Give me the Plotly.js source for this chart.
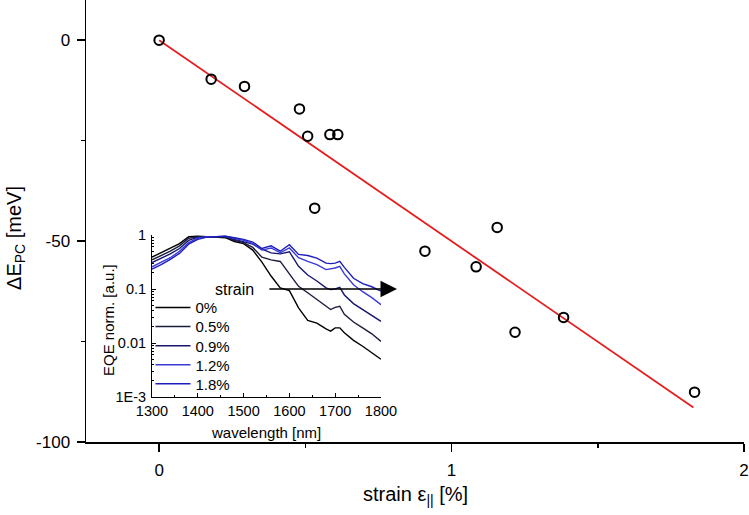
<!DOCTYPE html>
<html>
<head>
<meta charset="utf-8">
<script src="https://cdn.plot.ly/plotly-3.0.1.min.js"></script>
<style>html,body{margin:0;padding:0;background:#fff;}#chart{width:749px;height:515px;}</style>
</head>
<body>
<div id="chart"></div>
<script>
// Main plot: energy shift vs strain
const strain = [0, 0.178, 0.292, 0.480, 0.508, 0.584, 0.611, 0.532, 0.909, 1.156, 1.084, 1.217, 1.383, 1.831];
const deltaE = [0, -9.7, -11.5, -17.1, -23.9, -23.5, -23.5, -41.8, -52.5, -46.6, -56.4, -72.7, -69.0, -87.6];
// Linear fit line endpoints
const fitStrain = [0, 1.827];
const fitDeltaE = [0, -91.4];
const mainYTicks = [-100, -50, 0];
const mainYTickText = ['-100', '-50', '0'];

// Inset: normalized EQE spectra
const wavelength = [1300,1320,1340,1360,1380,1400,1420,1440,1460,1480,1500,1520,1540,1560,1580,1600,1620,1640,1660,1680,1690,1700,1710,1720,1740,1760,1780,1800];
const eqe0 = [0.389,0.468,0.562,0.692,0.933,0.955,0.933,0.912,0.891,0.759,0.692,0.525,0.316,0.174,0.105,0.0933,0.0447,0.0263,0.0234,0.0182,0.0166,0.0191,0.0191,0.0155,0.0112,0.0087,0.0066,0.0050];
const eqe05 = [0.347,0.417,0.501,0.631,0.871,0.933,0.933,0.912,0.912,0.794,0.724,0.589,0.389,0.347,0.324,0.191,0.112,0.0851,0.0646,0.0479,0.0417,0.0457,0.0479,0.0339,0.0245,0.0191,0.0148,0.0107];
const eqe09 = [0.309,0.372,0.447,0.562,0.794,0.912,0.933,0.912,0.933,0.832,0.759,0.676,0.550,0.468,0.447,0.490,0.263,0.182,0.141,0.105,0.0977,0.100,0.107,0.0776,0.0537,0.0417,0.0324,0.0251];
const eqe12 = [0.257,0.316,0.380,0.501,0.724,0.871,0.933,0.933,0.955,0.871,0.794,0.692,0.525,0.575,0.468,0.575,0.380,0.324,0.282,0.229,0.234,0.245,0.263,0.191,0.120,0.0891,0.0692,0.0513];
const eqe18 = [0.234,0.282,0.355,0.457,0.676,0.832,0.912,0.933,0.955,0.891,0.832,0.741,0.562,0.631,0.501,0.661,0.437,0.417,0.372,0.302,0.295,0.302,0.324,0.251,0.158,0.126,0.110,0.0912];
const seriesNames = ['0%','0.5%','0.9%','1.2%','1.8%'];
const seriesColors = ['#000000','#1c1c3c','#16166e','#3a3ad8','#1e1ebe'];
const insetYTicks = [0.001, 0.01, 0.1, 1];
const insetYTickText = ['1E-3', '0.01', '0.1', '1'];

const font = 'Arial, "Liberation Sans", sans-serif';
const eqeSeries = [eqe0, eqe05, eqe09, eqe12, eqe18];
const legendIds = ['legend', 'legend2', 'legend3', 'legend4', 'legend5'];
const legendY = [0.3038, 0.2609, 0.2172, 0.1742, 0.1312];

const traces = [
  {x: fitStrain, y: fitDeltaE, mode: 'lines', line: {color: '#e41e1e', width: 1.8}, showlegend: false, hoverinfo: 'skip'},
  {x: strain, y: deltaE, mode: 'markers', marker: {symbol: 'circle-open', size: 9.5, color: '#000', line: {width: 2, color: '#000'}}, showlegend: false}
];
eqeSeries.forEach((ys, i) => {
  traces.push({x: wavelength, y: ys, xaxis: 'x2', yaxis: 'y2', mode: 'lines', name: seriesNames[i],
    line: {color: seriesColors[i], width: 1.4}, showlegend: true, legend: legendIds[i]});
});

const minorLog = [];
[0.001, 0.01, 0.1].forEach(d => { for (let k = 2; k <= 9; k++) minorLog.push(d * k); });

const layout = {
  width: 749, height: 515,
  margin: {l: 86, r: 5, t: 0, b: 73},
  paper_bgcolor: '#fff', plot_bgcolor: 'rgba(0,0,0,0)',
  font: {family: font, color: '#000'},
  showlegend: true,
  xaxis: {range: [-0.25, 2], dtick: 1, tick0: 0, showline: true, linecolor: '#000', linewidth: 1.5,
    ticks: 'outside', ticklen: 8, tickwidth: 1.5, tickcolor: '#000', showgrid: false, zeroline: false,
    tickfont: {size: 17}, ticklabelstandoff: 4,
    minor: {dtick: 0.5, ticks: 'outside', ticklen: 4, tickwidth: 1.5, tickcolor: '#000', showgrid: false}},
  yaxis: {range: [-100, 10], tickmode: 'array', tickvals: mainYTicks, ticktext: mainYTickText,
    showline: true, linecolor: '#000', linewidth: 1.5,
    ticks: 'outside', ticklen: 8, tickwidth: 1.5, tickcolor: '#000', showgrid: false, zeroline: false,
    tickfont: {size: 17}, ticklabelstandoff: 3,
    minor: {dtick: 25, ticks: 'outside', ticklen: 4, tickwidth: 1.5, tickcolor: '#000', showgrid: false}},
  xaxis2: {domain: [0.1003, 0.4483], anchor: 'y2', range: [1300, 1800], dtick: 100, showline: true,
    linecolor: '#000', linewidth: 1, ticks: 'inside', ticklen: 4, tickcolor: '#000', showgrid: false, zeroline: false,
    tickfont: {size: 14.5}, ticklabelstandoff: 1,
    minor: {dtick: 50, ticks: 'inside', ticklen: 2, tickcolor: '#000', showgrid: false}},
  yaxis2: {domain: [0.1018, 0.4683], anchor: 'x2', type: 'log', range: [-3, 0], tickmode: 'array',
    tickvals: insetYTicks, ticktext: insetYTickText, showline: true, linecolor: '#000', linewidth: 1,
    ticks: 'inside', ticklen: 4, tickcolor: '#000', showgrid: false, zeroline: false,
    tickfont: {size: 14.5}, ticklabelstandoff: 2,
    minor: {tickmode: 'array', tickvals: minorLog, ticks: 'inside', ticklen: 2, tickcolor: '#000', showgrid: false}},
  annotations: [
    {xref: 'paper', yref: 'paper', x: -0.108, y: 0.4615, textangle: -90, showarrow: false,
      text: 'ΔE<sub>PC</sub> [meV]', font: {size: 20}, xanchor: 'center', yanchor: 'middle'},
    {xref: 'paper', yref: 'paper', x: 0.5, y: -0.12, showarrow: false,
      text: 'strain ε<sub>||</sub> [%]', font: {size: 20}, xanchor: 'center', yanchor: 'middle'},
    {xref: 'paper', yref: 'paper', x: 0.2743, y: 0.0226, showarrow: false,
      text: 'wavelength [nm]', font: {size: 15}, xanchor: 'center', yanchor: 'middle'},
    {xref: 'paper', yref: 'paper', x: 0.0334, y: 0.276, textangle: -90, showarrow: false,
      text: 'EQE norm. [a.u.]', font: {size: 15}, xanchor: 'center', yanchor: 'middle'},
    {xref: 'x2', yref: 'y2', x: 1835, y: -1, axref: 'x2', ayref: 'y2', ax: 1553, ay: -1,
      showarrow: true, arrowhead: 2, arrowsize: 2.2, arrowwidth: 1.5, arrowcolor: '#000', text: ''},
    {xref: 'x2', yref: 'y2', x: 1481, y: -1, showarrow: false, text: 'strain', font: {size: 16},
      xanchor: 'center', yanchor: 'middle'}
  ]
};
legendIds.forEach((id, i) => {
  layout[id] = {x: 0.098, xanchor: 'left', y: legendY[i], yanchor: 'middle', bgcolor: 'rgba(0,0,0,0)',
    borderwidth: 0, font: {size: 15, family: font}, itemwidth: 35};
});

Plotly.newPlot('chart', traces, layout, {staticPlot: true, displayModeBar: false});
</script>
</body>
</html>
